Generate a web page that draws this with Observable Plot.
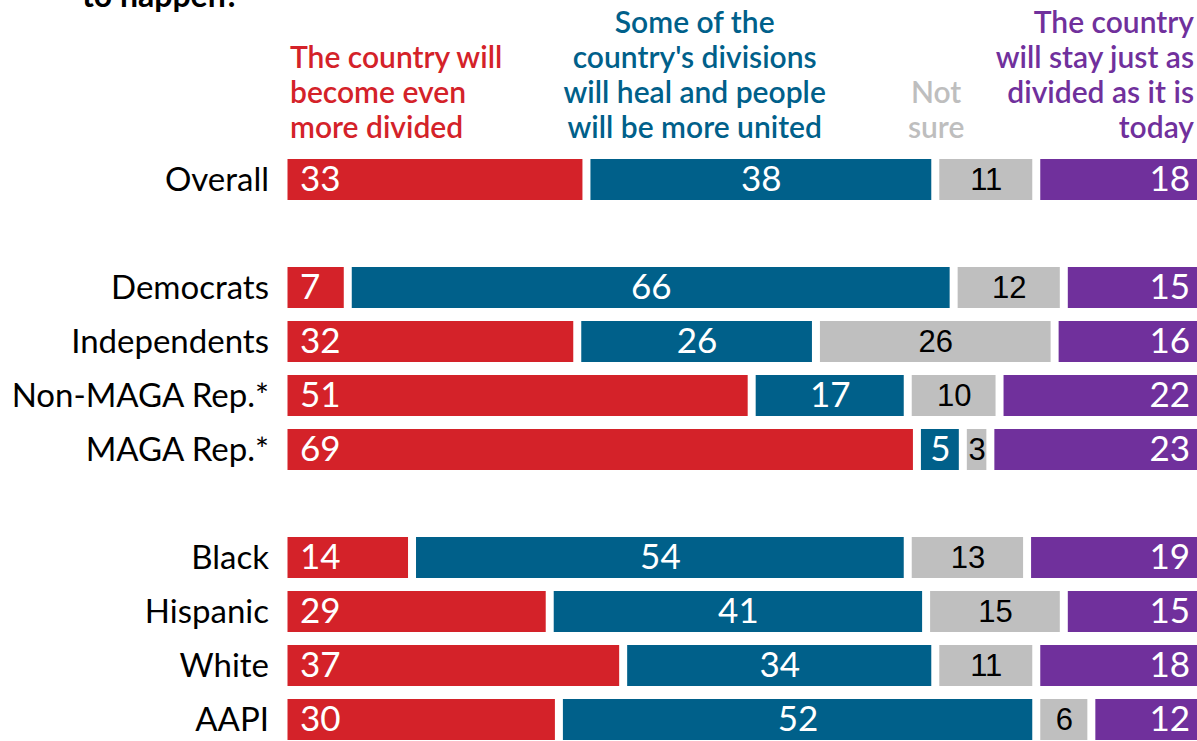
<!DOCTYPE html>
<html>
<head>
<meta charset="utf-8">
<script src="https://cdn.jsdelivr.net/npm/d3@7"></script>
<script src="https://cdn.jsdelivr.net/npm/@observablehq/plot@0.6"></script>
<style>
  html, body { margin: 0; padding: 0; background: #fff; overflow: hidden; }
  #wrap { position: relative; width: 1197px; height: 741px; overflow: hidden; font-family: Lato, "Noto Sans", sans-serif; }
  #title { position: absolute; left: 82px; top: -21px; font-size: 32px; line-height: 32px; font-weight: 700; color: #000; white-space: nowrap; }
  #chart { position: absolute; left: 0; top: 0; }
</style>
</head>
<body>
<div id="wrap">
  <div id="chart"></div>
  <div id="title">to happen?</div>
</div>
<script>
// ---- data ----
const groups = ["Overall", "Democrats", "Independents", "Non-MAGA Rep.*", "MAGA Rep.*", "Black", "Hispanic", "White", "AAPI"];
const categories = ["moreDivided", "heal", "notSure", "stayDivided"];
const headerLabels = [
  "The country will\nbecome even\nmore divided",
  "Some of the\ncountry's divisions\nwill heal and people\nwill be more united",
  "Not\nsure",
  "The country\nwill stay just as\ndivided as it is\ntoday"
];
const moreDivided = [33, 7, 32, 51, 69, 14, 29, 37, 30];
const heal        = [38, 66, 26, 17, 5, 54, 41, 34, 52];
const notSure     = [11, 12, 26, 10, 3, 13, 15, 11, 6];
const stayDivided = [18, 15, 16, 22, 23, 19, 15, 18, 12];

// ---- build table ----
const series = {moreDivided, heal, notSure, stayDivided};
const rows = [];
groups.forEach((g, i) => categories.forEach(c => rows.push({group: g, cat: c, value: series[c][i]})));

const colors = ["#D42229", "#00608A", "#BFBFBF", "#70309C"];
const headerColors = ["#D42229", "#00608A", "#BEBEBE", "#70309C"];
// y domain with spacer rows between groups of rows
const yDomain = ["Overall", "gap1", "Democrats", "Independents", "Non-MAGA Rep.*", "MAGA Rep.*", "gap2", "Black", "Hispanic", "White", "AAPI"];

const headers = categories.map((c, i) => ({cat: c, text: headerLabels[i], group: "Overall"}));
const headerX = {moreDivided: 0, heal: 44.3, notSure: 70.6, stayDivided: 100};
const headerAnchor = {moreDivided: "start", heal: "middle", notSure: "middle", stayDivided: "end"};

const stackOpts = {y: "group", x: "value", z: "cat", order: categories};

const labelText = (cat) => (d) => d.cat === cat ? String(d.value) : null;

const chart = Plot.plot({
  width: 1197,
  height: 741,
  marginTop: 0, marginBottom: 0, marginLeft: 0, marginRight: 0,
  style: {fontFamily: "Lato, 'Noto Sans', sans-serif", background: "transparent", overflow: "visible"},
  x: {domain: [0, 100], range: [287.5, 1205.5], axis: null},
  y: {domain: yDomain, range: [141.8, 755.8], padding: 0.25, axis: null},
  color: {domain: categories, range: colors},
  marks: [
    Plot.barX(rows, Plot.stackX({...stackOpts, fill: "cat", insetRight: 8})),
    // value labels
    Plot.text(rows, Plot.stackX1({...stackOpts, text: labelText("moreDivided"), textAnchor: "start", dx: 12, fill: "white", fontSize: 35})),
    Plot.text(rows, Plot.stackX({...stackOpts, text: labelText("heal"), dx: -4, fill: "white", fontSize: 35})),
    Plot.text(rows, Plot.stackX({...stackOpts, text: labelText("notSure"), dx: -4, fill: "black", fontSize: 31, fontFamily: "'Liberation Sans', Arial, sans-serif"})),
    Plot.text(rows, Plot.stackX2({...stackOpts, text: labelText("stayDivided"), textAnchor: "end", dx: -16, fill: "white", fontSize: 35})),
    // row labels
    Plot.text(groups, {x: () => 0, y: d => d, text: d => d, textAnchor: "end", dx: -19, fill: "black", fontSize: 33}),
    // column headers
    ...headers.map((h, i) => Plot.text([h], {
      x: () => headerX[h.cat], y: "group", text: "text",
      textAnchor: headerAnchor[h.cat], lineAnchor: "bottom", lineHeight: 1.17,
      dy: -42, dx: h.cat === "stayDivided" ? -12 : (h.cat === "moreDivided" ? 2 : 0),
      fill: headerColors[i], fontSize: 30, fontWeight: 600
    }))
  ]
});
document.getElementById("chart").appendChild(chart);
</script>
</body>
</html>
